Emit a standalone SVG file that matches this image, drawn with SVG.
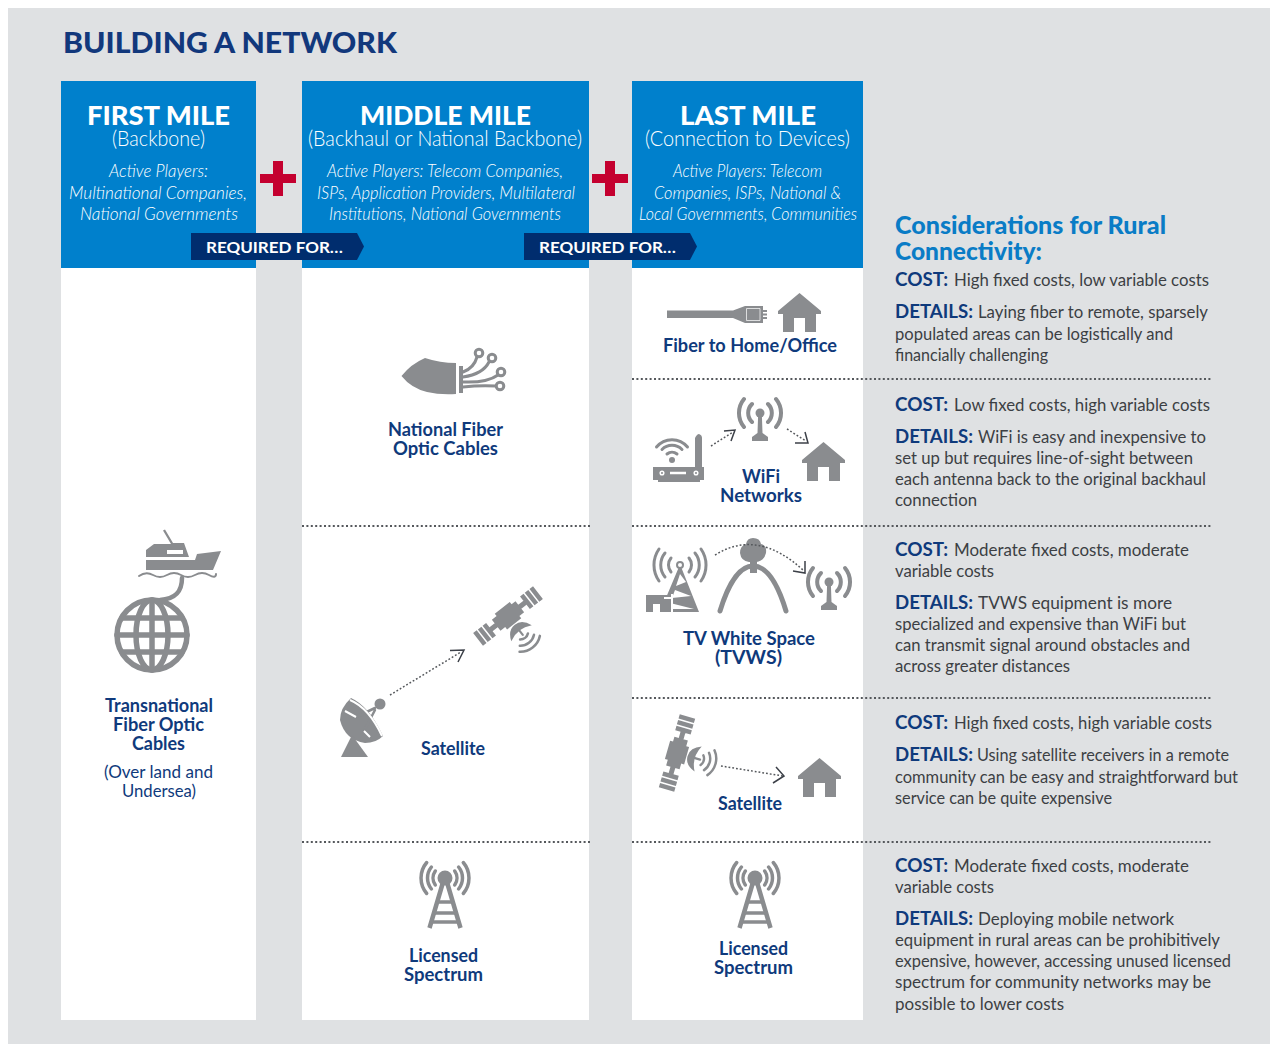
<svg xmlns="http://www.w3.org/2000/svg" width="1270" height="1044" viewBox="0 0 1270 1044">
<style>
text{font-family:"Lato","Liberation Sans",sans-serif}
.ti{font-weight:900;font-size:29px;fill:#12387c}
.hd{font-weight:900;font-size:27px;fill:#fff}
.sb{font-weight:300;font-size:21px;fill:#fff}
.it{font-weight:300;font-style:italic;font-size:18px;fill:#fff}
.rq{font-weight:700;font-size:16px;fill:#fff}
.lb{font-weight:700;font-size:19px;fill:#0f3a7c}
.ln{font-weight:400;font-size:18px;fill:#0f3a7c}
.ct{font-weight:900;font-size:24px;fill:#0a7cc6}
.bd{font-size:18px;fill:#3c3f44}
.bd .k{font-weight:700;fill:#0f3a7c}
.blue{fill:#0080cc}.white{fill:#fff}.plus{fill:#c4002f}.ban{fill:#002d6e}
.ic{fill:#8a8c8f}
.st{fill:none;stroke:#8a8c8f;stroke-linecap:round}
.wst{fill:none;stroke:#fff}
.sep{stroke:#55585c;stroke-width:2;stroke-dasharray:2 2.4;fill:none}
.dot{stroke:#55585c;stroke-width:1.5;stroke-dasharray:1.8 2;fill:none}
.chev{stroke:#3c4048;stroke-width:1.5;fill:none}
</style>
<defs>
<symbol id="house" viewBox="0 0 43 39" width="43" height="39" overflow="visible">
<path class="ic" d="M21.500 0L43 18V21H38V39H27V25H16V39H5V21H0V18Z"/>
</symbol>
<symbol id="tower" viewBox="0 0 50 68" width="50" height="68" overflow="visible">
<g class="st" stroke-width="3.500">
<path d="M6.700 .5A24 24 0 0 0 6.700 31.500M43.300 .5A24 24 0 0 1 43.300 31.500"/>
<path d="M11.400 5A17.500 17.500 0 0 0 11.400 27M38.600 5A17.500 17.500 0 0 1 38.600 27"/>
<path d="M15.300 9A12 12 0 0 0 15.300 23M34.700 9A12 12 0 0 1 34.700 23"/>
<path stroke-width="4.500" stroke-linecap="butt" d="M22.500 22L9.500 66M27.500 22L40.500 66"/>
<path stroke-width="3.500" stroke-linecap="butt" d="M18 40H32M15 51H35M12 60H38"/>
</g>
<circle class="ic" cx="25" cy="16" r="7.500"/>
</symbol>
<symbol id="antenna" viewBox="-24 -16 48 46" width="48" height="46" overflow="visible">
<g class="st" stroke-width="4" stroke-linecap="butt">
<path d="M-8 -9A12.500 12.500 0 0 0 -8 9M8 -9A12.500 12.500 0 0 1 8 9"/>
<path d="M-16 -14A22 22 0 0 0 -16 14M16 -14A22 22 0 0 1 16 14"/>
</g>
<circle class="ic" cy="0" r="4.500"/>
<path class="ic" d="M-1.800 0H1.800L2.500 20L8 24V28H-8V24L-2.500 20Z"/>
</symbol>
<symbol id="satellite" viewBox="-40 -16 80 56" width="80" height="56" overflow="visible">
<path class="ic" d="M-38 -8H-33.500V8H-38ZM-32 -8H-27.500V8H-32ZM-26 -8H-21.500V8H-26ZM38 -8H33.500V8H38ZM32 -8H27.500V8H32ZM26 -8H21.500V8H26ZM-21.500 -2.500H21.500V2.500H-21.500ZM-15 -7H-9V-10H10V-7H15V7H9V10H-9V7H-15Z"/>
<path class="ic" d="M-13 22Q-9 11 0 11Q9 11 13 22Q0 15 -13 22Z"/>
<path class="st" stroke-width="2.200" d="M0 16V24"/>
<path class="st" stroke-width="2.500" d="M-5 26A8 8 0 0 0 5 26M-9 30.700A14 14 0 0 0 9 30.700M-12.900 35.300A20 20 0 0 0 12.900 35.300"/>
</symbol>
</defs>
<rect x="8" y="8" width="1262" height="1036" fill="#dfe1e3"/>
<text class="ti" x="63" y="53" textLength="334" lengthAdjust="spacingAndGlyphs">BUILDING A NETWORK</text>

<g id="col-first">
<rect class="white" x="61" y="268" width="195" height="752"/>
<rect class="blue" x="61" y="81" width="195" height="187"/>
<text class="hd" x="87" y="125" textLength="143" lengthAdjust="spacingAndGlyphs">FIRST MILE</text>
<text class="sb" x="112" y="146" textLength="93" lengthAdjust="spacingAndGlyphs">(Backbone)</text>
<text class="it" x="109" y="177" textLength="99" lengthAdjust="spacingAndGlyphs">Active Players:</text>
<text class="it" x="69" y="199" textLength="178" lengthAdjust="spacingAndGlyphs">Multinational Companies,</text>
<text class="it" x="80" y="220" textLength="158" lengthAdjust="spacingAndGlyphs">National Governments</text>
</g>
<g id="col-middle">
<rect class="white" x="302" y="268" width="287" height="752"/>
<rect class="blue" x="302" y="81" width="287" height="187"/>
<text class="hd" x="360" y="125" textLength="171" lengthAdjust="spacingAndGlyphs">MIDDLE MILE</text>
<text class="sb" x="308" y="146" textLength="274" lengthAdjust="spacingAndGlyphs">(Backhaul or National Backbone)</text>
<text class="it" x="327" y="177" textLength="236" lengthAdjust="spacingAndGlyphs">Active Players: Telecom Companies,</text>
<text class="it" x="317" y="199" textLength="258" lengthAdjust="spacingAndGlyphs">ISPs, Application Providers, Multilateral</text>
<text class="it" x="329" y="220" textLength="232" lengthAdjust="spacingAndGlyphs">Institutions, National Governments</text>
</g>
<g id="col-last">
<rect class="white" x="632" y="268" width="231" height="752"/>
<rect class="blue" x="632" y="81" width="231" height="187"/>
<text class="hd" x="680" y="125" textLength="136" lengthAdjust="spacingAndGlyphs">LAST MILE</text>
<text class="sb" x="645" y="146" textLength="205" lengthAdjust="spacingAndGlyphs">(Connection to Devices)</text>
<text class="it" x="673" y="177" textLength="149" lengthAdjust="spacingAndGlyphs">Active Players: Telecom</text>
<text class="it" x="654" y="199" textLength="187" lengthAdjust="spacingAndGlyphs">Companies, ISPs, National &amp;</text>
<text class="it" x="639" y="220" textLength="218" lengthAdjust="spacingAndGlyphs">Local Governments, Communities</text>
</g>

<g id="plus-1"><path class="plus" d="M273 161H283V174H296V183H283V196H273V183H260V174H273Z"/></g>
<g id="plus-2"><path class="plus" d="M605 161H615V174H628V183H615V196H605V183H592V174H605Z"/></g>
<g id="required-1"><path class="ban" d="M191 233H357L364 246.500L357 260H191Z"/><text class="rq" x="206" y="253" textLength="137" lengthAdjust="spacingAndGlyphs">REQUIRED FOR…</text></g>
<g id="required-2"><path class="ban" d="M524 233H690L697 246.500L690 260H524Z"/><text class="rq" x="539" y="253" textLength="137" lengthAdjust="spacingAndGlyphs">REQUIRED FOR…</text></g>

<g id="separators">
<path class="sep" d="M302 526H590M302 842H590M632 379H1211M632 526H1211M632 698H1211M632 842H1211"/>
</g>

<g id="node-transnational">
<path class="ic" d="M163 530.500L165 529.500L173 543H184L189 557H146V550L154 544H171ZM146 560H195L197 554L221 551L213 570H146Z"/>
<rect class="white" x="167" y="550" width="16" height="4"/>
<path class="st" stroke-width="2" d="M139 576Q146 571 153 575T167 575T181 575T195 575T209 575T216 574"/>
<path class="st" stroke-width="4.500" d="M182 578C182 592 175 599 160 600"/>
<g class="st" stroke-width="5.500" stroke-linecap="butt">
<circle cx="152" cy="635" r="35"/>
<ellipse cx="152" cy="635" rx="16" ry="35"/>
<path d="M152 600V670M117 635H187M122 618H182M122 652H182"/>
</g>
<text class="lb" x="105" y="712" textLength="108" lengthAdjust="spacingAndGlyphs">Transnational</text>
<text class="lb" x="113" y="731" textLength="91" lengthAdjust="spacingAndGlyphs">Fiber Optic</text>
<text class="lb" x="132" y="750" textLength="53" lengthAdjust="spacingAndGlyphs">Cables</text>
<text class="ln" x="104" y="778" textLength="109" lengthAdjust="spacingAndGlyphs">(Over land and</text>
<text class="ln" x="122" y="797" textLength="74" lengthAdjust="spacingAndGlyphs">Undersea)</text>
</g>

<g id="node-national-fiber">
<path class="ic" d="M401.500 376Q411 364 425 358Q440 363 456 363V394Q440 395 427 392Q411 388 401.500 376ZM459 366L463 366V393H459Z"/>
<g class="st" stroke-width="3">
<path d="M463 372Q474 368 477 357M463 377Q483 374 489 362M463 382Q487 383 498 375M463 387Q480 385 496 386"/>
<g fill="#fff"><circle cx="479" cy="353" r="3.800"/><circle cx="492" cy="358" r="3.800"/><circle cx="501" cy="372" r="3.800"/><circle cx="500" cy="386" r="3.800"/></g>
</g>
<text class="lb" x="388" y="436" textLength="115" lengthAdjust="spacingAndGlyphs">National Fiber</text>
<text class="lb" x="393" y="455" textLength="105" lengthAdjust="spacingAndGlyphs">Optic Cables</text>
</g>

<g id="node-satellite-middle">
<use href="#satellite" x="468" y="600" transform="rotate(-38 508 616)"/>
<path class="ic" d="M351 698Q340 708 340 720Q345 740 365 743Q376 743 383 736Q369 706 351 698Z"/>
<path class="ic" d="M352 735L368 757H341Z"/>
<circle class="ic" cx="380" cy="704" r="5.500"/>
<path class="st" stroke-width="2.500" stroke-linecap="butt" d="M375 708L356 717M375 710L364 731"/>
<path class="wst" stroke-width="2" d="M350 700Q369 708 382 736M356 717L345 711M364 731L370 737"/>
<text class="lb" x="421" y="755" textLength="64" lengthAdjust="spacingAndGlyphs">Satellite</text>
</g>

<g id="node-licensed-middle">
<use href="#tower" x="420" y="862"/>
<text class="lb" x="409" y="962" textLength="69" lengthAdjust="spacingAndGlyphs">Licensed</text>
<text class="lb" x="404" y="981" textLength="79" lengthAdjust="spacingAndGlyphs">Spectrum</text>
</g>

<g id="node-fiber-home">
<path class="ic" d="M667 310.500H733L745 306H763V323H745L733 318H667Z"/>
<path class="wst" stroke-width="1" d="M746.500 308.500H760V320.500H746.500Z" opacity=".7"/>
<path class="ic" d="M763 310H767V312H763ZM763 313.500H767V315.500H763ZM763 317H767V319H763Z"/>
<use href="#house" x="778" y="293"/>
<text class="lb" x="663" y="352" textLength="174" lengthAdjust="spacingAndGlyphs">Fiber to Home/Office</text>
</g>

<g id="node-wifi">
<path class="ic" d="M653 467H704V480H700V482H658V480H653Z"/>
<path class="ic" d="M695 467V438Q697 434 699 434Q702 435 702 438V467Z"/>
<g class="wst" stroke-width="1.500"><circle cx="662" cy="473" r="1.800"/><circle cx="696" cy="473" r="1.800"/><path d="M670 473H686" stroke-width="2.500"/></g>
<circle class="ic" cx="672" cy="460" r="3"/>
<g class="st" stroke-width="3" stroke-linecap="butt"><path d="M667 454A8 8 0 0 1 677 454M662 449.500A14 14 0 0 1 682 449.500M656.500 447A20 20 0 0 1 687.500 447"/></g>
<use href="#antenna" x="736" y="397"/>
<use href="#house" x="802" y="442"/>
<text class="lb" x="742" y="483" textLength="38" lengthAdjust="spacingAndGlyphs">WiFi</text>
<text class="lb" x="720" y="502" textLength="82" lengthAdjust="spacingAndGlyphs">Networks</text>
</g>

<g id="node-tvws">
<g class="st" stroke-width="3" stroke-linecap="butt">
<path d="M659 549A28 28 0 0 0 659 581M701 549A28 28 0 0 1 701 581"/>
<path d="M665 553A19 19 0 0 0 665 577M695 553A19 19 0 0 1 695 577"/>
<path d="M671 558A11 11 0 0 0 671 572M689 558A11 11 0 0 1 689 572"/>
</g>
<circle class="st" stroke-width="2" cx="680" cy="565" r="3"/>
<path class="ic" d="M678.500 568H681.500L699 612H660ZM680 574L676 586L686 582ZM675 590L672 598L691 596ZM670 603L668 609H694Z"/>
<path class="ic" d="M646 595H672V612H660V604H653V612H646Z"/>
<path class="wst" stroke-width="2" d="M672 594V613M664 598H672"/>
<path class="st" stroke-width="5" stroke-linecap="butt" d="M720 611C727 588 738 566 753 566C769 566 779 588 786 611"/>
<path class="ic" d="M750 560H757V573H750Z"/>
<path class="ic" d="M753 538Q760 538 761 544Q767 545 766 553Q764 562 755 562H749Q741 561 740 553Q740 546 746 544Q747 538 753 538Z"/>
<use href="#antenna" x="805" y="566"/>
<text class="lb" x="683" y="645" textLength="132" lengthAdjust="spacingAndGlyphs">TV White Space</text>
<text class="lb" x="715" y="664" textLength="67" lengthAdjust="spacingAndGlyphs">(TVWS)</text>
</g>

<g id="node-satellite-last">
<use href="#satellite" x="637" y="737" transform="rotate(-74 677 753)"/>
<use href="#house" x="798" y="758"/>
<text class="lb" x="718" y="810" textLength="64" lengthAdjust="spacingAndGlyphs">Satellite</text>
</g>

<g id="node-licensed-last">
<use href="#tower" x="730" y="862"/>
<text class="lb" x="719" y="955" textLength="69" lengthAdjust="spacingAndGlyphs">Licensed</text>
<text class="lb" x="714" y="974" textLength="79" lengthAdjust="spacingAndGlyphs">Spectrum</text>
</g>

<g id="connectors">
<path class="dot" d="M390 695L461 652"/><path class="chev" d="M450 650.500L464 650L458 662"/>
<path class="dot" d="M711 446L733 432"/><path class="chev" d="M724 431L735 430L731 441"/>
<path class="dot" d="M787 429L806 441"/><path class="chev" d="M795 443L808 443L805 432"/>
<path class="dot" d="M715 555Q758 528 804 571"/><path class="chev" d="M793 571L805 573L805 561"/>
<path class="dot" d="M721 766L783 776"/><path class="chev" d="M776 767L784 776L773 783"/>
</g>

<g id="considerations">
<text class="ct" x="895" y="234" textLength="271" lengthAdjust="spacingAndGlyphs">Considerations for Rural</text>
<text class="ct" x="895" y="260" textLength="147" lengthAdjust="spacingAndGlyphs">Connectivity:</text>
</g>
<g id="details-fiber">
<text class="bd" y="286"><tspan class="k" x="895" textLength="53" lengthAdjust="spacingAndGlyphs">COST:</tspan><tspan x="954" textLength="255" lengthAdjust="spacingAndGlyphs">High fixed costs, low variable costs</tspan></text>
<text class="bd" y="318"><tspan class="k" x="895" textLength="78" lengthAdjust="spacingAndGlyphs">DETAILS:</tspan><tspan x="978" textLength="230" lengthAdjust="spacingAndGlyphs">Laying fiber to remote, sparsely</tspan></text>
<text class="bd" x="895" y="340" textLength="278" lengthAdjust="spacingAndGlyphs">populated areas can be logistically and</text>
<text class="bd" x="895" y="361" textLength="153" lengthAdjust="spacingAndGlyphs">financially challenging</text>
</g>
<g id="details-wifi">
<text class="bd" y="411"><tspan class="k" x="895" textLength="53" lengthAdjust="spacingAndGlyphs">COST:</tspan><tspan x="954" textLength="256" lengthAdjust="spacingAndGlyphs">Low fixed costs, high variable costs</tspan></text>
<text class="bd" y="443"><tspan class="k" x="895" textLength="78" lengthAdjust="spacingAndGlyphs">DETAILS:</tspan><tspan x="978" textLength="228" lengthAdjust="spacingAndGlyphs">WiFi is easy and inexpensive to</tspan></text>
<text class="bd" x="895" y="464" textLength="298" lengthAdjust="spacingAndGlyphs">set up but requires line-of-sight between</text>
<text class="bd" x="895" y="485" textLength="311" lengthAdjust="spacingAndGlyphs">each antenna back to the original backhaul</text>
<text class="bd" x="895" y="506" textLength="82" lengthAdjust="spacingAndGlyphs">connection</text>
</g>
<g id="details-tvws">
<text class="bd" y="556"><tspan class="k" x="895" textLength="53" lengthAdjust="spacingAndGlyphs">COST:</tspan><tspan x="954" textLength="235" lengthAdjust="spacingAndGlyphs">Moderate fixed costs, moderate</tspan></text>
<text class="bd" x="895" y="577" textLength="99" lengthAdjust="spacingAndGlyphs">variable costs</text>
<text class="bd" y="609"><tspan class="k" x="895" textLength="78" lengthAdjust="spacingAndGlyphs">DETAILS:</tspan><tspan x="978" textLength="194" lengthAdjust="spacingAndGlyphs">TVWS equipment is more</tspan></text>
<text class="bd" x="895" y="630" textLength="291" lengthAdjust="spacingAndGlyphs">specialized and expensive than WiFi but</text>
<text class="bd" x="895" y="651" textLength="295" lengthAdjust="spacingAndGlyphs">can transmit signal around obstacles and</text>
<text class="bd" x="895" y="672" textLength="175" lengthAdjust="spacingAndGlyphs">across greater distances</text>
</g>
<g id="details-satellite">
<text class="bd" y="729"><tspan class="k" x="895" textLength="53" lengthAdjust="spacingAndGlyphs">COST:</tspan><tspan x="954" textLength="258" lengthAdjust="spacingAndGlyphs">High fixed costs, high variable costs</tspan></text>
<text class="bd" y="761"><tspan class="k" x="895" textLength="78" lengthAdjust="spacingAndGlyphs">DETAILS:</tspan><tspan x="977" textLength="252" lengthAdjust="spacingAndGlyphs">Using satellite receivers in a remote</tspan></text>
<text class="bd" x="895" y="783" textLength="343" lengthAdjust="spacingAndGlyphs">community can be easy and straightforward but</text>
<text class="bd" x="895" y="804" textLength="217" lengthAdjust="spacingAndGlyphs">service can be quite expensive</text>
</g>
<g id="details-licensed">
<text class="bd" y="872"><tspan class="k" x="895" textLength="53" lengthAdjust="spacingAndGlyphs">COST:</tspan><tspan x="954" textLength="235" lengthAdjust="spacingAndGlyphs">Moderate fixed costs, moderate</tspan></text>
<text class="bd" x="895" y="893" textLength="99" lengthAdjust="spacingAndGlyphs">variable costs</text>
<text class="bd" y="925"><tspan class="k" x="895" textLength="78" lengthAdjust="spacingAndGlyphs">DETAILS:</tspan><tspan x="978" textLength="196" lengthAdjust="spacingAndGlyphs">Deploying mobile network</tspan></text>
<text class="bd" x="895" y="946" textLength="325" lengthAdjust="spacingAndGlyphs">equipment in rural areas can be prohibitively</text>
<text class="bd" x="895" y="967" textLength="336" lengthAdjust="spacingAndGlyphs">expensive, however, accessing unused licensed</text>
<text class="bd" x="895" y="988" textLength="316" lengthAdjust="spacingAndGlyphs">spectrum for community networks may be</text>
<text class="bd" x="895" y="1010" textLength="169" lengthAdjust="spacingAndGlyphs">possible to lower costs</text>
</g>
</svg>
